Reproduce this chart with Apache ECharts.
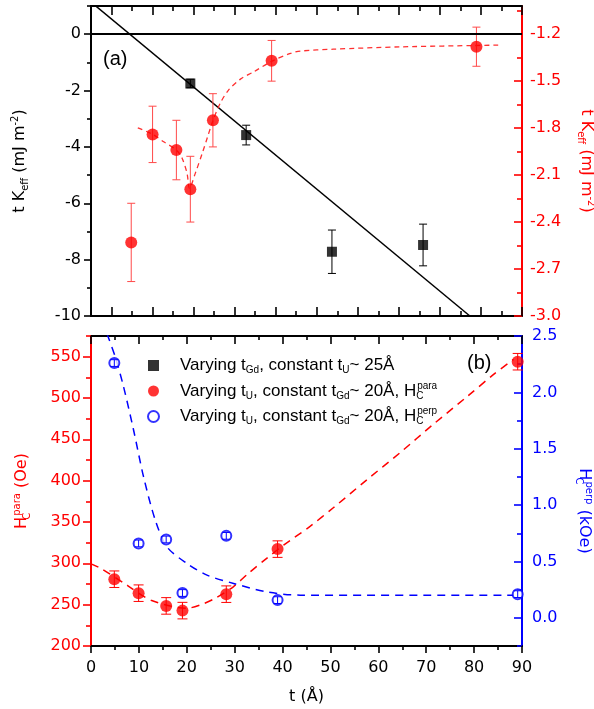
<!DOCTYPE html>
<html>
<head>
<meta charset="utf-8">
<script src="https://cdn.jsdelivr.net/npm/echarts@6/dist/echarts.min.js"></script>
<style>
  html, body { margin: 0; padding: 0; background: #fff; }
  #chart { width: 594px; height: 709px; }
</style>
</head>
<body>
<div id="chart"></div>
<script>
// ---------- Panel (a): t*K_eff versus layer thickness ----------
// Gd thickness series (left axis, mJ m^-2)
const tGd = [19.2, 32.8, 53.7, 75.9];
const tKeffGd = [-1.75, -3.58, -7.72, -7.48];
const tKeffGdErr = [0.15, 0.35, 0.77, 0.74];
// linear fit through the Gd series
const fitGdT = [-5, 87.3];
const fitGdV = [1.14, -10];

// U thickness series (right axis, mJ m^-2)
const tU_a = [4.8, 10.0, 15.8, 19.2, 24.7, 39.0, 88.9];
const tKeffU = [-2.53, -1.84, -1.94, -2.19, -1.75, -1.37, -1.28];
const tKeffUErr = [0.25, 0.18, 0.19, 0.21, 0.17, 0.13, 0.125];
// guide curve through the U series
const fitUT = [6.4, 9.9, 12.7, 15.8, 17.2, 18.4, 19.0, 20.4, 22.1, 23.4, 24.7, 26.5, 28.5, 31.4, 34.6, 39.1, 43.6, 46.0, 54.0, 70.4, 94.2];
const fitUV = [-1.798, -1.838, -1.887, -1.940, -1.993, -2.089, -2.185, -2.089, -1.961, -1.856, -1.753, -1.640, -1.557, -1.487, -1.441, -1.372, -1.323, -1.308, -1.296, -1.281, -1.270];

// ---------- Panel (b): coercive fields versus U thickness ----------
const tU_b = [4.87, 9.94, 15.7, 19.1, 28.25, 38.96, 89.1];
const hcPara = [280.8, 263.9, 248.5, 242.8, 262.7, 317.2, 543.9];   // Oe
const hcParaErr = [10, 10, 10, 10, 10, 10, 10];
const hcPerp = [2.26, 0.66, 0.695, 0.22, 0.727, 0.157, 0.21];       // kOe
const hcPerpErr = [0.03, 0.03, 0.03, 0.03, 0.03, 0.03, 0.03];

const fitParaT = [0, 1.94, 7.65, 12.53, 20.05, 22.82, 25.96, 29.78, 32.91, 36.75, 40.22, 45.8, 50.66, 57.63, 64.58, 71.54, 78.5, 84.07, 88.24];
const fitParaV = [299.4, 294.2, 273.1, 255.4, 245.7, 249.7, 257.8, 271.9, 288.1, 306.3, 322.0, 345.0, 367.5, 401.2, 434.0, 468.5, 501.5, 528.5, 546.7];
const fitPerpT = [3.34, 5.07, 6.81, 8.90, 10.98, 13.43, 15.87, 20.05, 24.22, 29.78, 36.75, 43.7, 88.2];
const fitPerpV = [2.52, 2.314, 2.048, 1.664, 1.250, 0.866, 0.629, 0.482, 0.379, 0.305, 0.230, 0.201, 0.201];

// ---------- Tick values ----------
const topXMajor = [0, 10, 20, 30, 40, 50, 60, 70, 80, 90, 100];
const topXMinor = [-5, 5, 15, 25, 35, 45, 55, 65, 75, 85, 95];
const botXMajor = [0, 10, 20, 30, 40, 50, 60, 70, 80, 90];
const botXMinor = [5, 15, 25, 35, 45, 55, 65, 75, 85];
const aLeftMajor = [-10, -8, -6, -4, -2, 0];
const aLeftMinor = [-9, -7, -5, -3, -1, 1];
const aRightMajor = [-3.0, -2.7, -2.4, -2.1, -1.8, -1.5, -1.2];
const aRightMinor = [-2.85, -2.55, -2.25, -1.95, -1.65, -1.35, -1.05];
const bLeftMajor = [200, 250, 300, 350, 400, 450, 500, 550];
const bLeftMinor = [225, 275, 325, 375, 425, 475, 525, 575];
const bRightMajor = [0, 0.5, 1.0, 1.5, 2.0, 2.5];
const bRightMinor = [-0.25, 0.25, 0.75, 1.25, 1.75, 2.25];

// ---------- Series names ----------
const NAME_GD = 'Varying t_Gd, constant t_U~ 25Å';
const NAME_PARA = 'Varying t_U, constant t_Gd~ 20Å, H_C^para';
const NAME_PERP = 'Varying t_U, constant t_Gd~ 20Å, H_C^perp';

const FONT = 'DejaVu Sans';
const LEGEND_FONT = 'Liberation Sans';
const RED = '#ff0000';
const BLUE = '#0000ff';
const BLACK = '#000000';

const zip = (xs, ys) => xs.map((x, i) => [x, ys[i]]);

function richStyles(font, size, color) {
  return {
    n:    { fontFamily: font, fontSize: size, lineHeight: 20, color: color },
    sub:  { fontFamily: font, fontSize: 10, lineHeight: 8, verticalAlign: 'bottom', color: color },
    subs: { fontFamily: font, fontSize: 10, lineHeight: 8, verticalAlign: 'bottom', color: color, width: 1 },
    sup:  { fontFamily: font, fontSize: 10, lineHeight: 10, verticalAlign: 'top', color: color },
    sp:   { width: 16 }
  };
}

// An axis is drawn as two overlapping axes: one carrying the long (labelled) ticks
// and the axis line, the other carrying the short ticks in between.
function axisPair(o) {
  const base = {
    type: 'value', gridIndex: o.grid, position: o.position, min: o.min, max: o.max,
    splitLine: { show: false }, splitArea: { show: false }
  };
  const major = Object.assign({}, base, {
    axisLine: { show: true, onZero: false, lineStyle: { color: o.color, width: 2 } },
    axisTick: { show: true, inside: o.inside, length: o.majorLen, customValues: o.majors,
                lineStyle: { color: o.color, width: 1.6 } },
    axisLabel: o.labels ? {
      show: true, customValues: o.majors, margin: o.margin, color: o.color,
      fontFamily: FONT, fontSize: 16, formatter: o.fmt
    } : { show: false }
  });
  if (o.name) {
    Object.assign(major, {
      name: o.name, nameLocation: 'middle', nameGap: o.nameGap, nameRotate: o.nameRotate,
      nameTextStyle: Object.assign({ rich: richStyles(FONT, 16, o.nameColor || o.color) }, o.nameStyle || {})
    });
  }
  const minor = Object.assign({}, base, {
    axisLine: { show: false, onZero: false },
    axisTick: { show: true, inside: o.inside, length: o.minorLen, customValues: o.minors,
                lineStyle: { color: o.color, width: 1.6 } },
    axisLabel: { show: false }
  });
  return [major, minor];
}

function errorBars(xIdx, yIdx, xs, ys, errs, color, cap, z) {
  return {
    type: 'custom', xAxisIndex: xIdx, yAxisIndex: yIdx, z: z, silent: true,
    data: xs.map((x, i) => [x, ys[i] - errs[i], ys[i] + errs[i]]),
    encode: { x: 0, y: [1, 2] },
    renderItem: function (params, api) {
      const lo = api.coord([api.value(0), api.value(1)]);
      const hi = api.coord([api.value(0), api.value(2)]);
      const st = { stroke: color, lineWidth: 1 };
      return {
        type: 'group',
        children: [
          { type: 'line', shape: { x1: lo[0], y1: lo[1], x2: hi[0], y2: hi[1] }, style: st },
          { type: 'line', shape: { x1: hi[0] - cap, y1: hi[1], x2: hi[0] + cap, y2: hi[1] }, style: st },
          { type: 'line', shape: { x1: lo[0] - cap, y1: lo[1], x2: lo[0] + cap, y2: lo[1] }, style: st }
        ]
      };
    }
  };
}

const fmt0 = v => String(v);
const fmt1 = v => Number(v).toFixed(1);

const xAxes = [].concat(
  // panel (a)
  axisPair({ grid: 0, position: 'bottom', min: -5, max: 100, color: BLACK, majors: topXMajor, minors: topXMinor,
             inside: true, majorLen: 9, minorLen: 5, labels: false }),
  axisPair({ grid: 0, position: 'top', min: -5, max: 100, color: BLACK, majors: topXMajor, minors: topXMinor,
             inside: true, majorLen: 9, minorLen: 5, labels: false }),
  // panel (b)
  axisPair({ grid: 1, position: 'bottom', min: 0, max: 90, color: BLACK, majors: botXMajor, minors: botXMinor,
             inside: false, majorLen: 7, minorLen: 4, labels: true, margin: 14, fmt: fmt0 }),
  axisPair({ grid: 1, position: 'top', min: 0, max: 90, color: BLACK, majors: botXMajor, minors: botXMinor,
             inside: true, majorLen: 8, minorLen: 4, labels: false })
);
// x-axis title of panel (b)
Object.assign(xAxes[4], {
  name: 't (Å)', nameLocation: 'middle', nameGap: 43,
  nameTextStyle: { fontFamily: FONT, fontSize: 16, color: BLACK }
});

const yAxes = [].concat(
  axisPair({ grid: 0, position: 'left', min: -10, max: 1, color: BLACK, majors: aLeftMajor, minors: aLeftMinor,
             inside: false, majorLen: 7, minorLen: 4, labels: true, margin: 10, fmt: fmt0,
             name: '{n|t K}{sub|eff}{n| (mJ m}{sup|-2}{n|)}', nameGap: 61, nameRotate: 90 }),
  axisPair({ grid: 0, position: 'right', min: -3.0, max: -1.02, color: RED, majors: aRightMajor, minors: aRightMinor,
             inside: true, majorLen: 8, minorLen: 5, labels: true, margin: 8, fmt: fmt1,
             name: '{n|t K}{sub|eff}{n| (mJ m}{sup|-2}{n|)}', nameGap: 54, nameRotate: -90 }),
  axisPair({ grid: 1, position: 'left', min: 200, max: 575, color: RED, majors: bLeftMajor, minors: bLeftMinor,
             inside: false, majorLen: 8, minorLen: 5, labels: true, margin: 10, fmt: fmt0,
             name: '{n|H}{subs|C}{sup|para}{n| (Oe)}', nameGap: 59, nameRotate: 90 }),
  axisPair({ grid: 1, position: 'right', min: -0.25, max: 2.5, color: BLUE, majors: bRightMajor, minors: bRightMinor,
             inside: true, majorLen: 8, minorLen: 5, labels: true, margin: 10, fmt: fmt1,
             name: '{n|H}{subs|C}{sup|perp}{n| (kOe)}', nameGap: 52, nameRotate: -90,
             nameStyle: { padding: [0, 0, 0, 40] } })
);

const legendText = {};
legendText[NAME_GD] = '{sp| }{n|Varying t}{sub|Gd}{n|, constant t}{sub|U}{n|~ 25Å}';
legendText[NAME_PARA] = '{sp| }{n|Varying t}{sub|U}{n|, constant t}{sub|Gd}{n|~ 20Å, H}{subs|C}{sup|para}';
legendText[NAME_PERP] = '{sp| }{n|Varying t}{sub|U}{n|, constant t}{sub|Gd}{n|~ 20Å, H}{subs|C}{sup|perp}';

const option = {
  backgroundColor: '#ffffff',
  animation: false,
  grid: [
    { left: 91, right: 72, top: 6, height: 310, outerBoundsMode: 'none' },
    { left: 91, right: 72, top: 336, height: 310, outerBoundsMode: 'none' }
  ],
  xAxis: xAxes,
  yAxis: yAxes,
  legend: {
    data: [NAME_GD, NAME_PARA, { name: NAME_PERP, icon: 'emptyCircle' }],
    orient: 'vertical', left: 147, top: 357, padding: 0,
    itemWidth: 11, itemHeight: 11, itemGap: 5.5, selectedMode: false,
    formatter: name => legendText[name],
    textStyle: { color: BLACK, rich: richStyles(LEGEND_FONT, 17, BLACK) }
  },
  graphic: [
    { type: 'text', left: 103, top: 49, style: { text: '(a)', font: '20px "Liberation Sans"', fill: BLACK } },
    { type: 'text', left: 467, top: 353, style: { text: '(b)', font: '20px "Liberation Sans"', fill: BLACK } }
  ],
  series: [
    // ----- panel (a) -----
    {
      type: 'line', name: 'fitGd', xAxisIndex: 0, yAxisIndex: 0, data: zip(fitGdT, fitGdV),
      symbol: 'none', lineStyle: { color: BLACK, width: 1.5 }, z: 2, silent: true,
      markLine: {
        silent: true, symbol: ['none', 'none'], label: { show: false },
        lineStyle: { color: BLACK, width: 2, type: 'solid' },
        data: [{ yAxis: 0 }]
      }
    },
    {
      type: 'line', name: 'fitU', xAxisIndex: 0, yAxisIndex: 2, data: zip(fitUT, fitUV),
      symbol: 'none', smooth: 0.3, lineStyle: { color: '#ff3030', width: 1.3, type: [5, 4] }, z: 2, silent: true
    },
    errorBars(0, 0, tGd, tKeffGd, tKeffGdErr, BLACK, 4, 3),
    errorBars(0, 2, tU_a, tKeffU, tKeffUErr, '#ff4a4a', 4, 3),
    {
      type: 'scatter', name: NAME_GD, xAxisIndex: 0, yAxisIndex: 0, data: zip(tGd, tKeffGd),
      symbol: 'rect', symbolSize: 10, itemStyle: { color: BLACK }, z: 5
    },
    {
      type: 'scatter', name: 'tKeffU', xAxisIndex: 0, yAxisIndex: 2, data: zip(tU_a, tKeffU),
      symbol: 'circle', symbolSize: 12, itemStyle: { color: RED }, z: 5
    },
    // ----- panel (b) -----
    {
      type: 'line', name: 'fitPara', xAxisIndex: 4, yAxisIndex: 4, data: zip(fitParaT, fitParaV),
      symbol: 'none', smooth: 0.3, lineStyle: { color: RED, width: 1.5, type: [8, 6] }, z: 2, silent: true
    },
    {
      type: 'line', name: 'fitPerp', xAxisIndex: 4, yAxisIndex: 6, data: zip(fitPerpT, fitPerpV),
      symbol: 'none', smooth: 0.3, lineStyle: { color: BLUE, width: 1.5, type: [8, 6] }, z: 2, silent: true
    },
    errorBars(4, 4, tU_b, hcPara, hcParaErr, RED, 5, 3),
    {
      type: 'scatter', name: NAME_PARA, xAxisIndex: 4, yAxisIndex: 4, data: zip(tU_b, hcPara),
      symbol: 'circle', symbolSize: 12, itemStyle: { color: RED }, z: 5
    },
    {
      type: 'scatter', name: NAME_PERP, xAxisIndex: 4, yAxisIndex: 6, data: zip(tU_b, hcPerp),
      symbol: 'emptyCircle', symbolSize: 10, itemStyle: { color: BLUE, borderColor: BLUE, borderWidth: 1 }, z: 5
    },
    errorBars(4, 6, tU_b, hcPerp, hcPerpErr, BLUE, 4, 6)
  ]
};

const chart = echarts.init(document.getElementById('chart'), null, { renderer: 'canvas' });
chart.setOption(option);
</script>
</body>
</html>
